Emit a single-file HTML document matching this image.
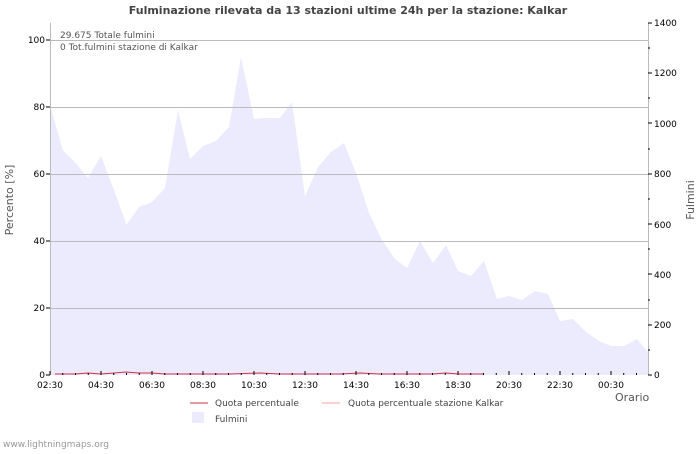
<!DOCTYPE html><html><head><style>body{margin:0;background:#fff;font-family:"DejaVu Sans","Liberation Sans",sans-serif}</style></head><body>
<svg width="700" height="450" xmlns="http://www.w3.org/2000/svg" font-family="DejaVu Sans, Liberation Sans, sans-serif">
<rect width="700" height="450" fill="#fff"/>
<text x="348" y="14" text-anchor="middle" font-size="11" font-weight="bold" fill="#444">Fulminazione rilevata da 13 stazioni ultime 24h per la stazione: Kalkar</text>
<polygon fill="#ebebfd" points="50,375 50,105 62.75,150 75.5,163 88,178 101,156 114,190 126.5,225 139,207 152,202 165,188 178,110 190,159 203,146 216,141 229,127 241,57 254,119 267,118 280,118 292,102 305,196 318,167 331,152 344,143 356,173 369,213 382,240 395,259 407,268 420,241 433,263 446,245 458,271 471,276 484,261 497,299 509,296 522,300 535,291 548,294 560,321 573,319 586,332 599,341 611,346 624,346 637,339 648,352 648,375"/>
<g stroke="#bbb" stroke-width="1">
<line x1="50" y1="40.5" x2="648" y2="40.5"/><line x1="50" y1="107.5" x2="648" y2="107.5"/><line x1="50" y1="174.5" x2="648" y2="174.5"/><line x1="50" y1="241.5" x2="648" y2="241.5"/><line x1="50" y1="308.5" x2="648" y2="308.5"/>
<line x1="50.5" y1="23" x2="50.5" y2="375"/><line x1="648.5" y1="23" x2="648.5" y2="375"/>
</g>
<polyline fill="none" stroke="#d0334a" stroke-width="1" points="55,374 75,374 88,373 101,374 114,373 126,372 139,373 152,373 165,374 178,374 200,374 230,374 260,373 280,374 300,374 320,374 340,374 360,373 380,374 420,374 433,374 446,373 458,374 471,374 484,374"/>
<g font-size="9" fill="#000">
<text x="45" y="43" text-anchor="end">100</text><text x="45" y="110" text-anchor="end">80</text><text x="45" y="177" text-anchor="end">60</text><text x="45" y="244" text-anchor="end">40</text><text x="45" y="311" text-anchor="end">20</text><text x="45" y="378" text-anchor="end">0</text>
<text x="654" y="26">1400</text><text x="654" y="127">1000</text><text x="654" y="177">800</text><text x="654" y="228">600</text><text x="654" y="278">400</text><text x="654" y="328">200</text><text x="654" y="378">0</text>
<text x="654" y="76">1200</text>
<g text-anchor="middle"><text x="50" y="388">02:30</text><text x="101" y="388">04:30</text><text x="152" y="388">06:30</text><text x="203" y="388">08:30</text><text x="254" y="388">10:30</text><text x="305" y="388">12:30</text><text x="356" y="388">14:30</text><text x="407" y="388">16:30</text><text x="458" y="388">18:30</text><text x="509" y="388">20:30</text><text x="560" y="388">22:30</text><text x="611" y="388">00:30</text></g>
</g>
<g font-size="9" fill="#555"><text x="60" y="38">29.675 Totale fulmini</text><text x="60" y="50">0 Tot.fulmini stazione di Kalkar</text></g>
<text x="615" y="401" font-size="11" fill="#555">Orario</text>
<text transform="translate(13,200) rotate(-90)" text-anchor="middle" font-size="11" fill="#555">Percento  [%]</text>
<text transform="translate(694,200) rotate(-90)" text-anchor="middle" font-size="11" fill="#555">Fulmini</text>
<line x1="190" y1="403" x2="208" y2="403" stroke="#d0334a"/><text x="215" y="406" font-size="9" fill="#444">Quota percentuale</text>
<line x1="322" y1="403" x2="340" y2="403" stroke="#f4a0a0"/><text x="348" y="406" font-size="9" fill="#444">Quota percentuale stazione Kalkar</text>
<rect x="192" y="412" width="12" height="11" fill="#ebebfd"/><text x="215" y="422" font-size="9" fill="#444">Fulmini</text>
<text x="3" y="447" font-size="9" fill="#999">www.lightningmaps.org</text>
<g stroke="#000">
<path d="M50,375h-4M50,308h-4M50,241h-4M50,174h-4M50,107h-4M50,40h-4M648,375h4M648,325h4M648,274h4M648,224h4M648,174h4M648,123h4M648,73h4M648,23h4M648,350h2M648,300h2M648,249h2M648,199h2M648,149h2M648,98h2M648,48h2"/>
<path d="M50,375v-4M62.75,375v-2M75.5,375v-2M88.25,375v-2M101,375v-4M113.75,375v-2M126.5,375v-2M139.25,375v-2M152,375v-4M164.75,375v-2M177.5,375v-2M190.25,375v-2M203,375v-4M215.75,375v-2M228.5,375v-2M241.25,375v-2M254,375v-4M266.75,375v-2M279.5,375v-2M292.25,375v-2M305,375v-4M317.75,375v-2M330.5,375v-2M343.25,375v-2M356,375v-4M368.75,375v-2M381.5,375v-2M394.25,375v-2M407,375v-4M419.75,375v-2M432.5,375v-2M445.25,375v-2M458,375v-4M470.75,375v-2M483.5,375v-2M496.25,375v-2M509,375v-4M521.75,375v-2M534.5,375v-2M547.25,375v-2M560,375v-4M572.75,375v-2M585.5,375v-2M598.25,375v-2M611,375v-4M623.75,375v-2M636.5,375v-2"/>
</g>
</svg></body></html>
